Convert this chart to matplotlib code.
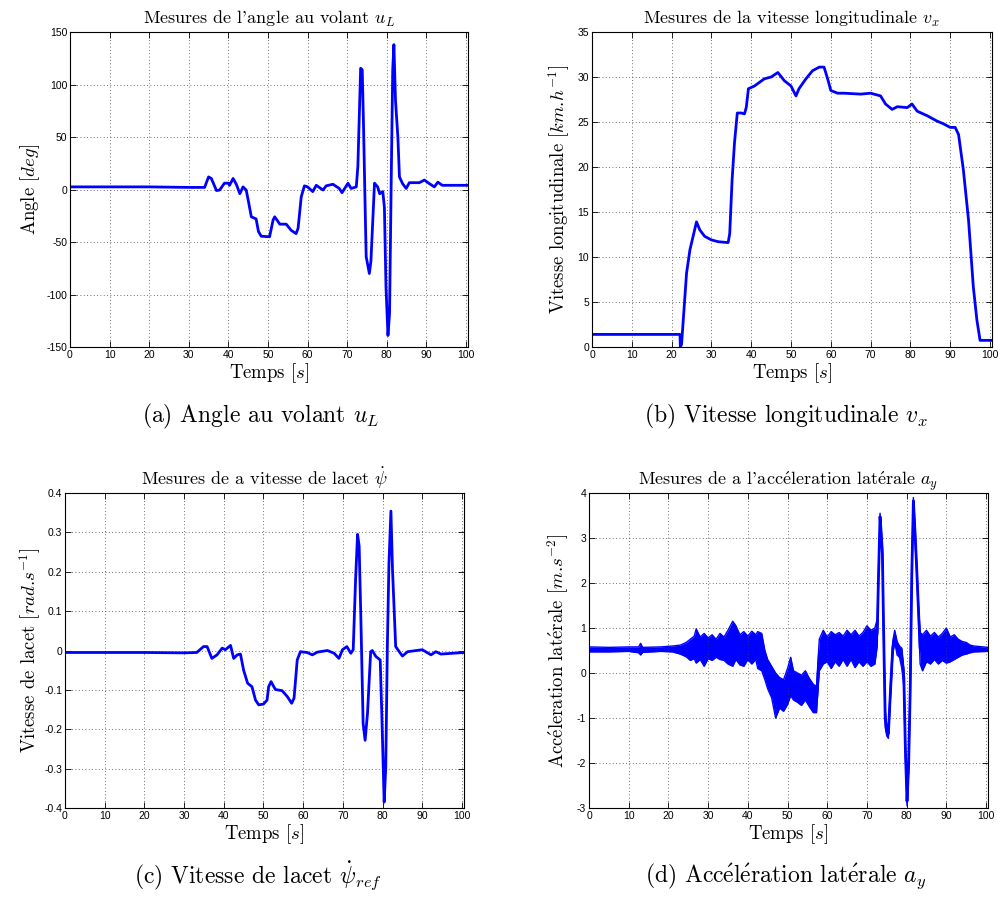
import numpy as np
import matplotlib
matplotlib.use("Agg")
import matplotlib.pyplot as plt
from matplotlib.ticker import FuncFormatter

plt.rcParams["font.family"] = ["Liberation Sans", "DejaVu Sans"]
plt.rcParams["mathtext.fontset"] = "cm"
plt.rcParams["axes.unicode_minus"] = False

SERIF = ["cmr10", "DejaVu Serif"]
BLUE = "#0000ff"
E_ACUTE = r"$\mathrm{\acute{e}}$"

# ---- (a) steering angle u_L [deg] ----
t_ul = [0, 10, 20, 30, 34, 35, 35.7, 37, 37.8, 39, 40, 40.3, 41.2, 42, 42.9, 43.7,
        44.5, 45, 45.8, 47, 47.6, 48.3, 50.4, 51.3, 51.7, 53, 54.6, 55.9, 57.1,
        57.6, 58.4, 59.2, 60, 61.3, 62.2, 63.9, 64.7, 66.4, 68, 68.7, 70.2, 71,
        72.3, 72.7, 73.4, 73.8, 74.1, 74.6, 74.8, 75.6, 76, 76.9, 77.7, 78.2,
        79, 79.4, 79.8, 80.3, 80.7, 81.1, 81.5, 81.8, 82.2, 82.8, 83.2, 84,
        84.9, 85.7, 88.2, 89.5, 90.8, 92, 92.9, 94, 100.5]
ul = [2.5, 2.5, 2.5, 2, 2, 12, 10.5, -1, -0.5, 6, 6, 4, 10.5, 5, -4, 2.5,
      -0.5, -10, -26, -28, -40, -44.5, -45, -29, -26, -33, -33, -39, -42,
      -37, -7, 3.5, 2.5, -2, 4, -0.5, 3.5, 5, 1, -3, 6, 1,
      2.5, 22, 115.5, 114, 66, -29, -64, -80, -68, 6, 2.5, -4,
      -2, -17, -93, -139, -118, 2.5, 114, 138, 85, 50, 12, 5.5,
      1, 6.5, 6.5, 9, 5.5, 2.5, 7, 4, 4]

# ---- (b) longitudinal speed v_x [km/h] ----
t_vx = [0, 22.1, 22.2, 22.5, 23.75, 24.6, 25.4, 26.25, 27.1, 28.3, 30, 31.7,
        34.2, 34.6, 35.2, 35.8, 36.5, 37.5, 38.3, 38.75, 39.3, 40.8, 43.3,
        45, 46.7, 48.3, 50, 51.25, 52, 53.75, 55.4, 57.1, 58.3, 59.2, 60,
        61.7, 63.3, 67.5, 70, 72.5, 73.75, 75.4, 76.7, 79.2, 80.4, 81.7,
        84.2, 86.7, 88.3, 90, 91.25, 92.1, 93.3, 94.6, 95.8, 96.7, 97.5, 100.5]
vx = [1.4, 1.4, 0, 0.3, 8.2, 10.8, 12.3, 13.9, 13.0, 12.3, 11.9, 11.7,
      11.6, 12.6, 18.6, 22.7, 26.0, 26.0, 25.9, 26.6, 28.7, 29.0, 29.8,
      30.0, 30.5, 29.6, 29.0, 27.9, 28.7, 29.8, 30.7, 31.1, 31.1, 29.8, 28.5,
      28.2, 28.2, 28.1, 28.2, 27.9, 27.0, 26.4, 26.7, 26.6, 27.0, 26.2,
      25.7, 25.1, 24.8, 24.4, 24.4, 23.6, 19.7, 14.1, 6.7, 3.0, 0.74, 0.74]

# ---- (c) yaw rate psi_dot [rad/s] ----
t_psi = [0, 10, 20, 30, 33.2, 34.9, 35.8, 37, 38.3, 39.6, 40.4, 41.7, 42.5,
         43.4, 44.2, 45, 46, 47.1, 48, 48.8, 50, 50.9, 51.3, 51.9, 53, 54.7,
         56, 57.1, 57.7, 58.5, 59.3, 61, 62.3, 63.6, 66.1, 67.8, 69, 69.9,
         71, 72, 72.6, 73.2, 73.7, 74.1, 74.5, 75.1, 75.6, 76.2, 77, 77.4,
         78.3, 79.4, 79.8, 80.4, 80.8, 81.2, 81.6, 82.1, 82.5, 83.3, 84.2,
         85, 86.3, 90, 92.2, 93.4, 94.7, 100.5]
psi = [-0.005, -0.005, -0.005, -0.006, -0.005, 0.010, 0.010, -0.020, -0.011,
       0.006, 0.002, 0.013, -0.020, -0.011, -0.009, -0.050, -0.083, -0.092,
       -0.126, -0.138, -0.136, -0.126, -0.092, -0.079, -0.099, -0.102,
       -0.117, -0.134, -0.121, -0.024, -0.003, -0.005, -0.011, -0.004,
       0.000, -0.007, -0.020, 0.002, 0.010, -0.007, 0.002, 0.180, 0.295,
       0.265, 0.095, -0.185, -0.228, -0.160, -0.003, 0.000, -0.015, -0.024,
       -0.160, -0.385, -0.296, 0.010, 0.220, 0.354, 0.205, 0.010, -0.003,
       -0.014, -0.003, 0.002, -0.011, -0.003, -0.009, -0.005]

# ---- (d) lateral acceleration a_y [m/s^2], lower / upper edge of the noisy trace ----
t_ay = [0, 5, 10, 12.5, 13, 13.5, 18, 21, 23, 24.5, 25.5, 26.5, 27, 28, 29,
        30, 31, 32, 33, 34, 35, 36.2, 37, 38, 39, 40, 41, 42, 42.5, 43.5,
        44.3, 45, 46, 47, 48, 49, 50, 50.8, 51.5, 52.5, 53.5, 54.5, 55.5,
        56.5, 57.3, 58, 59, 60, 61, 62, 63, 64, 65, 66, 67, 68, 69, 70, 71,
        72, 72.6, 72.9, 73.3, 73.6, 73.9, 74.2, 74.6, 75.0, 75.4, 75.9, 76.5,
        77.0, 77.6, 78.2, 78.8, 79.3, 79.7, 80.1, 80.5, 80.9, 81.3, 81.7,
        82.1, 82.5, 83.0, 83.4, 84, 85, 86, 87, 88, 89, 90, 91, 92, 93, 94,
        95, 96, 97, 100.5]
ay_lo = [0.47, 0.47, 0.48, 0.45, 0.40, 0.46, 0.48, 0.47, 0.42, 0.36, 0.28,
         0.32, 0.22, 0.30, 0.15, 0.32, 0.28, 0.35, 0.30, 0.28, 0.20, 0.15,
         0.30, 0.18, 0.15, 0.30, 0.20, 0.30, 0.10, 0.05, -0.15, -0.35,
         -0.55, -1.00, -0.78, -0.85, -0.70, -0.50, -0.60, -0.65, -0.72,
         -0.60, -0.75, -0.88, -0.88, 0.05, 0.20, 0.25, 0.10, 0.25, 0.15,
         0.30, 0.15, 0.30, 0.12, 0.25, 0.15, 0.25, 0.15, 0.20, 0.60, 2.0,
         3.40, 3.0, 2.5, 0.8, -1.2, -1.40, -1.45, -0.60, 0.40, 0.70, 0.40,
         0.35, 0.10, -0.3, -1.9, -2.95, -2.2, -0.6, 2.0, 3.75, 3.0, 2.3,
         1.2, 0.2, 0.05, 0.25, 0.20, 0.30, 0.20, 0.28, 0.22, 0.25, 0.30,
         0.35, 0.40, 0.42, 0.45, 0.47, 0.48]
ay_hi = [0.58, 0.57, 0.58, 0.58, 0.66, 0.57, 0.58, 0.60, 0.62, 0.68, 0.75,
         0.82, 0.98, 0.80, 0.88, 0.78, 0.85, 0.75, 0.88, 0.80, 0.95, 1.15,
         1.05, 0.85, 0.92, 0.82, 0.93, 0.85, 0.92, 0.88, 0.50, 0.30, 0.15,
         0.00, -0.10, -0.15, 0.10, 0.35, 0.05, 0.00, -0.05, 0.05, -0.12,
         -0.25, -0.30, 0.75, 0.95, 0.80, 0.92, 0.85, 0.90, 0.82, 0.95, 0.85,
         0.95, 0.82, 0.90, 1.05, 0.95, 1.00, 1.20, 2.2, 3.55, 3.2, 2.8, 1.1,
         -0.8, -1.20, -1.25, -0.30, 0.70, 0.95, 0.70, 0.60, 0.55, 0.1, -1.6,
         -2.75, -1.9, -0.2, 2.4, 3.9, 3.3, 2.5, 1.5, 0.9, 0.85, 0.95, 0.82,
         0.90, 0.80, 0.88, 1.00, 0.80, 0.85, 0.75, 0.70, 0.68, 0.62, 0.60,
         0.57]

x_ticks = list(range(0, 101, 10))

TITLE_FS = 13
LABEL_FS = 13.5
CAPTION_FS = 17
TICK_FS = 7.5


def acc(s):
    """French e-acute through mathtext, cmr10 has no such glyph."""
    return s.replace("é", E_ACUTE)


def fmt_matlab(v, pos):
    return "%g" % (round(v, 6) + 0.0)


def style(ax, yticks, ylim):
    ax.set_xlim(0, 100.5)
    ax.set_ylim(*ylim)
    ax.set_xticks(x_ticks)
    ax.set_yticks(yticks)
    ax.yaxis.set_major_formatter(FuncFormatter(fmt_matlab))
    ax.tick_params(direction="in", length=4, width=0.6, labelsize=TICK_FS,
                   top=True, right=True, pad=2)
    ax.grid(True, linestyle=(0, (1, 3)), color="#404040", linewidth=0.6)
    for s in ax.spines.values():
        s.set_linewidth(0.8)
    ax.set_xlabel(r"Temps $[s]$", family=SERIF, fontsize=LABEL_FS, labelpad=1)


fig = plt.figure(figsize=(9.98, 8.99), dpi=100)

ax_a = fig.add_axes([0.0701, 0.614, 0.3988, 0.3504])
ax_b = fig.add_axes([0.5932, 0.614, 0.4008, 0.3504])
ax_c = fig.add_axes([0.0651, 0.1012, 0.3998, 0.3504])
ax_d = fig.add_axes([0.5902, 0.1012, 0.3998, 0.3504])

# (a)
ax_a.plot(t_ul, ul, color=BLUE, lw=2)
style(ax_a, range(-150, 151, 50), (-150, 150))
ax_a.set_title(r"Mesures de l'angle au volant $u_L$", family=SERIF, fontsize=TITLE_FS, pad=6)
ax_a.set_ylabel(r"Angle $[deg]$", family=SERIF, fontsize=LABEL_FS, labelpad=3)

# (b)
ax_b.plot(t_vx, vx, color=BLUE, lw=2)
style(ax_b, range(0, 36, 5), (0, 35))
ax_b.set_title(r"Mesures de la vitesse longitudinale $v_x$", family=SERIF, fontsize=TITLE_FS, pad=6)
ax_b.set_ylabel(r"Vitesse longitudinale $[km$.$h^{-1}]$", family=SERIF, fontsize=LABEL_FS, labelpad=4)

# (c)
ax_c.plot(t_psi, psi, color=BLUE, lw=2)
style(ax_c, np.arange(-0.4, 0.41, 0.1), (-0.4, 0.4))
ax_c.set_title(r"Mesures de a vitesse de lacet $\dot{\psi}$", family=SERIF, fontsize=TITLE_FS, pad=6)
ax_c.set_ylabel(r"Vitesse de lacet $[rad$.$s^{-1}]$", family=SERIF, fontsize=LABEL_FS, labelpad=1)

# (d)
ay_mid = [(lo + hi) / 2 for lo, hi in zip(ay_lo, ay_hi)]
ax_d.fill_between(t_ay, ay_lo, ay_hi, color=BLUE, lw=0)
ax_d.plot(t_ay, ay_lo, color=BLUE, lw=1)
ax_d.plot(t_ay, ay_hi, color=BLUE, lw=1)
ax_d.plot(t_ay, ay_mid, color=BLUE, lw=2)
style(ax_d, range(-3, 5), (-3, 4))
ax_d.set_title(acc(r"Mesures de a l'accéleration latérale $a_y$"), family=SERIF,
               fontsize=TITLE_FS, pad=6)
ax_d.set_ylabel(acc(r"Accéleration latérale $[m$.$s^{-2}]$"), family=SERIF,
                fontsize=LABEL_FS, labelpad=4)

# sub-captions
fig.text(0.261, 1 - 416 / 899, r"(a) Angle au volant $u_L$", family=SERIF,
         fontsize=CAPTION_FS, ha="center", va="center")
fig.text(0.787, 1 - 416 / 899, r"(b) Vitesse longitudinale $v_x$", family=SERIF,
         fontsize=CAPTION_FS, ha="center", va="center")
fig.text(0.259, 1 - 876 / 899, r"(c) Vitesse de lacet $\dot{\psi}_{ref}$", family=SERIF,
         fontsize=CAPTION_FS, ha="center", va="center")
fig.text(0.787, 1 - 876 / 899, acc(r"(d) Accélération latérale $a_y$"), family=SERIF,
         fontsize=CAPTION_FS, ha="center", va="center")

fig.savefig("out.png", dpi=100, facecolor="white")
